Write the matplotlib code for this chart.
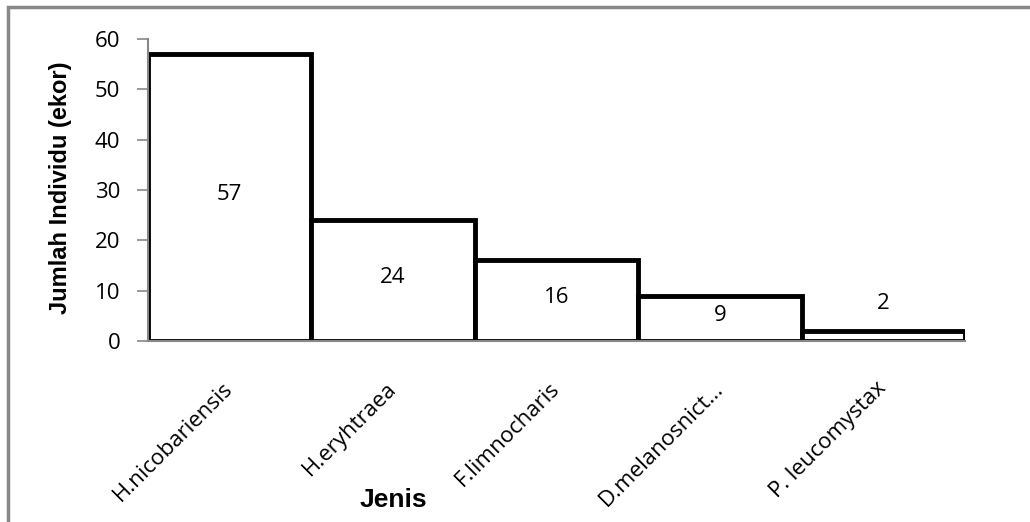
import matplotlib
matplotlib.use("Agg")
import matplotlib.pyplot as plt
from matplotlib.patches import Rectangle

jenis = ["H.nicobariensis", "H.eryhtraea", "F.limnocharis", "D.melanosnict…", "P. leucomystax"]
jumlah = [57, 24, 16, 9, 2]
y_ticks = [0, 10, 20, 30, 40, 50, 60]

W, H = 1030, 522
fig = plt.figure(figsize=(W / 100, H / 100), dpi=100)
ax = fig.add_axes([148 / W, 1 - 341 / H, (965 - 148) / W, (341 - 39) / H])

# outer chart frame (cropped on right/bottom)
fig.patches.append(Rectangle((8 / W, -0.1), 1.2, 1 - 7 / H + 0.1, transform=fig.transFigure,
                             fill=False, edgecolor="#888888", linewidth=2.5))

FONT = "Open Sans"
FS = 16
x = range(len(jumlah))
ax.bar(x, jumlah, width=1.0, color="white", edgecolor="black", linewidth=3.5, zorder=2)

for xi, v in zip(x, jumlah):
    if v >= 5:
        ax.text(xi, v / 2 + 0.6, str(v), ha="center", va="center", fontsize=FS, family=FONT)
    else:
        ax.text(xi, v + 5.5, str(v), ha="center", va="center", fontsize=FS, family=FONT)

ax.set_xlim(-0.5, len(jumlah) - 0.5)
ax.set_ylim(0, 60)
ax.set_yticks(y_ticks)
ax.set_yticklabels([str(t) for t in y_ticks], fontsize=FS, family=FONT)
ax.set_xticks(list(x))
ax.set_xticklabels(jenis, rotation=45, ha="right", va="center", rotation_mode="anchor",
                   fontsize=FS, family=FONT)
ax.tick_params(axis="x", length=0, pad=32)
ax.tick_params(axis="y", length=8, width=1.2, color="#888888", pad=12)

for s in ["top", "right"]:
    ax.spines[s].set_visible(False)
for s in ["left", "bottom"]:
    ax.spines[s].set_color("#888888")
    ax.spines[s].set_linewidth(1.5)

fig.text(61 / W, 1 - 188 / H, "Jumlah Individu (ekor)", rotation=90, ha="center", va="center",
         fontsize=17, fontweight="bold", family="Liberation Sans")
fig.text(393 / W, 1 - 500 / H, "Jenis", ha="center", va="center",
         fontsize=19, fontweight="bold", family="Liberation Sans")

fig.savefig("out.png", dpi=100, facecolor="white")
